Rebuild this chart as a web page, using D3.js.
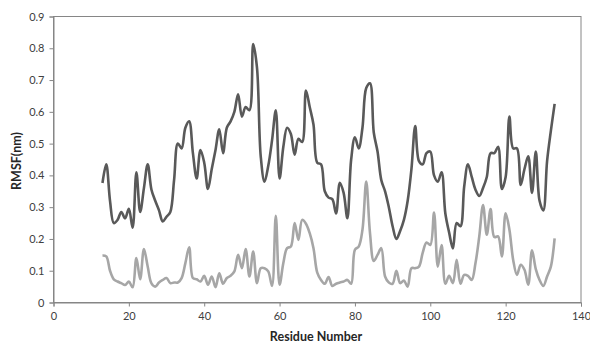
<!DOCTYPE html>
<html><head><meta charset="utf-8">
<script src="https://cdn.jsdelivr.net/npm/d3@7"></script>
<style>
body{margin:0;background:#fff;}
svg text{font-family:Lato,"Open Sans",sans-serif;}
</style></head>
<body><svg id="c" width="590" height="345"></svg>
<script>
const residues = d3.range(13, 134);
const rmsfDark = [0.376,0.435,0.32,0.25,0.26,0.285,0.265,0.295,0.235,0.41,0.285,0.36,0.435,0.355,0.32,0.29,0.255,0.27,0.285,0.385,
0.5,0.485,0.55,0.57,0.47,0.39,0.48,0.44,0.357,0.42,0.48,0.545,0.47,0.55,0.57,0.6,0.655,0.585,0.615,0.605,
0.813,0.74,0.46,0.38,0.43,0.51,0.605,0.39,0.49,0.55,0.53,0.465,0.515,0.505,0.667,0.615,0.56,0.44,0.435,0.35,
0.33,0.325,0.28,0.377,0.345,0.265,0.45,0.52,0.485,0.55,0.675,0.69,0.535,0.475,0.385,0.35,0.30,0.24,0.2,0.225,
0.26,0.32,0.42,0.555,0.445,0.435,0.47,0.475,0.4,0.38,0.41,0.28,0.22,0.17,0.25,0.24,0.365,0.435,0.395,0.355,
0.335,0.36,0.395,0.47,0.47,0.49,0.357,0.395,0.585,0.485,0.485,0.37,0.42,0.46,0.345,0.475,0.32,0.29,0.445,0.54,0.625];
const rmsfLight = [0.148,0.145,0.1,0.073,0.066,0.061,0.055,0.066,0.048,0.14,0.073,0.168,0.113,0.06,0.05,0.063,0.071,0.077,0.061,0.063,
0.063,0.077,0.124,0.174,0.077,0.073,0.066,0.084,0.056,0.082,0.048,0.092,0.059,0.077,0.084,0.098,0.15,0.108,0.168,0.082,
0.16,0.061,0.108,0.108,0.098,0.052,0.273,0.056,0.124,0.171,0.176,0.25,0.197,0.26,0.248,0.218,0.171,0.094,0.071,0.059,
0.08,0.052,0.059,0.063,0.066,0.071,0.059,0.166,0.176,0.229,0.381,0.218,0.131,0.15,0.171,0.082,0.063,0.059,0.1,0.061,
0.069,0.05,0.108,0.108,0.113,0.157,0.189,0.181,0.283,0.113,0.181,0.059,0.084,0.061,0.134,0.059,0.087,0.084,0.071,0.124,
0.208,0.307,0.213,0.294,0.206,0.208,0.145,0.281,0.229,0.134,0.087,0.119,0.103,0.056,0.164,0.105,0.071,0.052,0.082,0.113,0.202];
const xTicks = [0,20,40,60,80,100,120,140];
const yTicks = [0,0.1,0.2,0.3,0.4,0.5,0.6,0.7,0.8,0.9];

const svg = d3.select("#c");
const m = {l:53.5, r:581, t:16.5, b:302.5};
const x = d3.scaleLinear().domain([0,140]).range([m.l, m.r]);
const y = d3.scaleLinear().domain([0,0.9]).range([m.b, m.t]);

svg.append("rect").attr("x", m.l).attr("y", m.t).attr("width", m.r-m.l).attr("height", m.b-m.t)
  .attr("fill","none").attr("stroke","#868686").attr("stroke-width",1);

const xa = svg.append("g").attr("transform",`translate(0,${m.b})`)
  .call(d3.axisBottom(x).tickValues(xTicks).tickSize(4).tickPadding(6).tickFormat(d3.format("d")));
const ya = svg.append("g").attr("transform",`translate(${m.l},0)`)
  .call(d3.axisLeft(y).tickValues(yTicks).tickSize(4).tickPadding(5).tickFormat(d => d===0 ? "0" : d3.format(".1f")(d)));
[xa,ya].forEach(a=>{
  a.selectAll("path,line").attr("stroke","#868686");
  a.selectAll("text").attr("fill","#404040").style("font-size","11px");
});

const line = d3.line().x((d,i)=>x(residues[i])).y(d=>y(d)).curve(d3.curveCatmullRom.alpha(0.5));
svg.append("path").datum(rmsfLight).attr("d",line).attr("fill","none")
  .attr("stroke","#a6a6a6").attr("stroke-width",2.6).attr("stroke-linejoin","round");
svg.append("path").datum(rmsfDark).attr("d",line).attr("fill","none")
  .attr("stroke","#595959").attr("stroke-width",2.6).attr("stroke-linejoin","round");

svg.append("text").attr("x",316).attr("y",341).attr("text-anchor","middle")
  .style("font-size","12.5px").style("font-weight","bold").attr("fill","#262626").text("Residue Number");
svg.append("text").attr("transform","translate(21,161) rotate(-90)").attr("text-anchor","middle")
  .style("font-size","12.5px").style("font-weight","bold").attr("fill","#262626").text("RMSF(nm)");
</script></body></html>
